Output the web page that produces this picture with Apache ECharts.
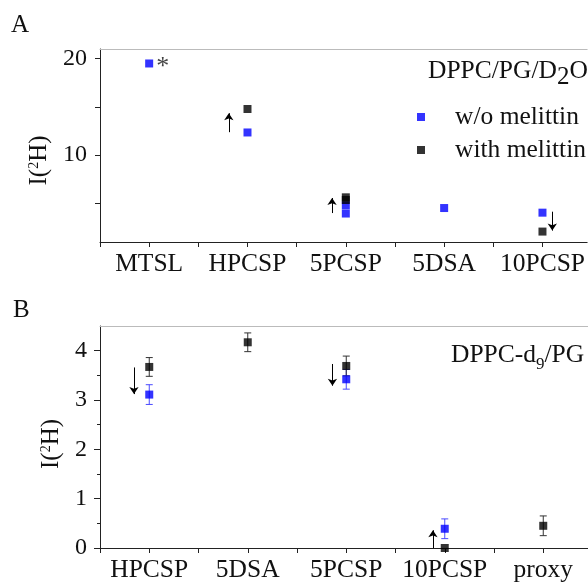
<!DOCTYPE html>
<html>
<head>
<meta charset="utf-8">
<script src="https://cdn.jsdelivr.net/npm/echarts@6/dist/echarts.min.js"></script>
<style>
html, body { margin: 0; padding: 0; background: #fff; }
#main { width: 588px; height: 586px; }
</style>
</head>
<body>
<div id="main"></div>
<script>
// panel A : DPPC/PG/D2O
var catsA = ['MTSL', 'HPCSP', '5PCSP', '5DSA', '10PCSP'];
var woA_x = [1, 2, 3, 3, 4, 5];
var woA_y = [19.5, 12.35, 4.8, 3.95, 4.52, 4.04];
var withA_x = [2, 3, 3, 5];
var withA_y = [14.78, 5.63, 5.35, 2.08];
// arrows: [x, from, to]
var arrowsA = [[1.81, 12.38, 14.35], [2.86, 4.0, 5.56], [5.10, 4.14, 2.18]];

// panel B : DPPC-d9/PG
var catsB = ['HPCSP', '5DSA', '5PCSP', '10PCSP', 'proxy'];
var woB_x = [1, 3, 4];
var woB_y = [3.11, 3.42, 0.39];
var woB_err = [0.2, 0.2, 0.2];
var withB_x = [1, 2, 3, 4, 5];
var withB_y = [3.67, 4.17, 3.69, 0.0, 0.45];
var withB_err = [0.19, 0.19, 0.2, 0, 0.2];
var arrowsB = [[0.845, 3.66, 3.12], [2.86, 3.73, 3.29], [3.88, 0.0, 0.36]];

var FONT = 'Liberation Serif';
var BLUE = '#0000ff';
var BLACK = '#000000';
var XMAX = 0.5 + 488 / 98.5;

var chart = echarts.init(document.getElementById('main'));

function pts(xs, ys) {
    var out = [];
    for (var i = 0; i < xs.length; i++) out.push([xs[i], ys[i]]);
    return out;
}
function errs(xs, ys, es) {
    var out = [];
    for (var i = 0; i < xs.length; i++) {
        if (es[i] > 0) out.push([xs[i], ys[i] - es[i], ys[i] + es[i]]);
    }
    return out;
}
function arrowLines(arr) {
    return arr.map(function (a) {
        return [{ coord: [a[0], a[1]] }, { coord: [a[0], a[2]] }];
    });
}
function errItem(params, api) {
    var x = api.value(0);
    var p1 = api.coord([x, api.value(2)]);
    var p2 = api.coord([x, api.value(1)]);
    var w = 3.5;
    var st = { stroke: api.visual('color'), lineWidth: 1 };
    return {
        type: 'group',
        children: [
            { type: 'line', shape: { x1: p1[0], y1: p1[1], x2: p2[0], y2: p2[1] }, style: st },
            { type: 'line', shape: { x1: p1[0] - w, y1: p1[1], x2: p1[0] + w, y2: p1[1] }, style: st },
            { type: 'line', shape: { x1: p2[0] - w, y1: p2[1], x2: p2[0] + w, y2: p2[1] }, style: st }
        ]
    };
}

var arrowStyle = {
    silent: true,
    symbol: ['none', 'arrow'],
    symbolSize: 7,
    label: { show: false },
    lineStyle: { color: BLACK, width: 1, type: 'solid' },
    animation: false
};

function xAxisFor(grid, cats) {
    return {
        type: 'value', gridIndex: grid, min: 0.5, max: XMAX, position: 'bottom',
        axisLine: { lineStyle: { color: '#222', width: 1 } },
        axisTick: { length: 5, lineStyle: { color: '#222' }, customValues: [0.5, 1, 1.5, 2, 2.5, 3, 3.5, 4, 4.5, 5] },
        axisLabel: {
            customValues: [1, 2, 3, 4, 5], margin: 9,
            fontFamily: FONT, fontSize: 25.5, color: '#111',
            formatter: function (v) { return cats[Math.round(v) - 1]; }
        },
        splitLine: { show: false }
    };
}
function topBorder(grid) {
    return {
        type: 'value', gridIndex: grid, min: 0.5, max: XMAX, position: 'top',
        axisLine: { lineStyle: { color: '#bbbbbb', width: 1 } },
        axisTick: { show: false }, axisLabel: { show: false }, splitLine: { show: false }
    };
}
function nameStyle(shift) {
    return {
        fontFamily: FONT, fontSize: 25, color: '#111',
        padding: [0, shift * 2, 0, 0],
        rich: { sup: { fontFamily: FONT, fontSize: 14, color: '#111', verticalAlign: 'top', lineHeight: 14 } }
    };
}
var plain = { fontFamily: FONT, fontSize: 25, fontWeight: 'normal', color: '#111' };

option = {
    animation: false,
    title: [
        { text: 'A', left: 11, top: 13, padding: 0, textStyle: plain },
        { text: 'B', left: 13, top: 298, padding: 0, textStyle: plain },
        {
            text: '{n|DPPC/PG/D}{s|2}{n|O}', left: 428, top: 58, padding: 0,
            textStyle: {
                fontWeight: 'normal',
                rich: {
                    n: { fontFamily: FONT, fontSize: 25.5, fontWeight: 'normal', color: '#111', verticalAlign: 'top' },
                    s: { fontFamily: FONT, fontSize: 25, fontWeight: 'normal', color: '#111', verticalAlign: 'top', padding: [7, 0, 0, 0] }
                }
            }
        },
        {
            text: '{n|DPPC-d}{s|9}{n|/PG}', left: 451, top: 342, padding: 0,
            textStyle: {
                fontWeight: 'normal',
                rich: {
                    n: { fontFamily: FONT, fontSize: 25.5, fontWeight: 'normal', color: '#111', verticalAlign: 'top' },
                    s: { fontFamily: FONT, fontSize: 17, fontWeight: 'normal', color: '#111', verticalAlign: 'top', padding: [14, 0, 0, 0] }
                }
            }
        }
    ],
    legend: {
        data: ['w/o melittin', 'with melittin'],
        orient: 'vertical', left: 417, top: 104, padding: 0,
        icon: 'rect', itemWidth: 8, itemHeight: 8, itemGap: 7,
        textStyle: { fontFamily: FONT, fontSize: 25.5, color: '#111', lineHeight: 24, padding: [0, 0, 0, 25] }
    },
    grid: [
        { left: 100, top: 49, right: 0, height: 193 },
        { left: 100, top: 326, right: 0, height: 222 }
    ],
    xAxis: [xAxisFor(0, catsA), topBorder(0), xAxisFor(1, catsB), topBorder(1)],
    yAxis: [
        {
            type: 'value', gridIndex: 0, min: 1, max: 21,
            name: 'I({sup|2}H)', nameLocation: 'middle', nameGap: 48, nameTextStyle: nameStyle(15),
            axisLine: { show: true, lineStyle: { color: '#222' } },
            axisTick: { show: true, length: 5, lineStyle: { color: '#222' }, customValues: [5, 10, 15, 20] },
            axisLabel: { customValues: [10, 20], margin: 13, fontFamily: FONT, fontSize: 24, color: '#111' },
            splitLine: { show: false }
        },
        {
            type: 'value', gridIndex: 1, min: 0, max: 4.5, interval: 1,
            name: 'I({sup|2}H)', nameLocation: 'middle', nameGap: 36, nameTextStyle: nameStyle(7),
            axisLine: { show: true, lineStyle: { color: '#222' } },
            axisTick: { show: true, length: 6, lineStyle: { color: '#222' }, customValues: [0, 1, 2, 3, 4] },
            minorTick: { show: true, splitNumber: 2, length: 3, lineStyle: { color: '#222' } },
            axisLabel: { customValues: [0, 1, 2, 3, 4], margin: 13, fontFamily: FONT, fontSize: 24, color: '#111' },
            splitLine: { show: false }
        }
    ],
    series: [
        {
            name: 'w/o melittin', type: 'scatter', xAxisIndex: 0, yAxisIndex: 0,
            symbol: 'rect', symbolSize: 8, itemStyle: { color: BLUE },
            data: pts(woA_x, woA_y).map(function (p, i) {
                if (i === 0) return { value: p, label: { show: true, formatter: '*', position: 'right', distance: 3, offset: [0, 4], fontFamily: FONT, fontSize: 26, color: '#111' } };
                return p;
            })
        },
        {
            name: 'with melittin', type: 'scatter', xAxisIndex: 0, yAxisIndex: 0,
            symbol: 'rect', symbolSize: 8, itemStyle: { color: BLACK },
            data: pts(withA_x, withA_y),
            markLine: Object.assign({ data: arrowLines(arrowsA) }, arrowStyle)
        },
        {
            name: 'w/o melittin', type: 'custom', xAxisIndex: 2, yAxisIndex: 1,
            renderItem: errItem, itemStyle: { color: '#4a4aff' },
            encode: { x: 0, y: [1, 2] }, data: errs(woB_x, woB_y, woB_err), z: 1
        },
        {
            name: 'with melittin', type: 'custom', xAxisIndex: 2, yAxisIndex: 1,
            renderItem: errItem, itemStyle: { color: '#333' },
            encode: { x: 0, y: [1, 2] }, data: errs(withB_x, withB_y, withB_err), z: 1
        },
        {
            name: 'w/o melittin', type: 'scatter', xAxisIndex: 2, yAxisIndex: 1,
            symbol: 'rect', symbolSize: 8, itemStyle: { color: BLUE }, z: 3,
            data: pts(woB_x, woB_y)
        },
        {
            name: 'with melittin', type: 'scatter', xAxisIndex: 2, yAxisIndex: 1,
            symbol: 'rect', symbolSize: 8, itemStyle: { color: BLACK }, z: 2,
            data: pts(withB_x, withB_y),
            markLine: Object.assign({ data: arrowLines(arrowsB) }, arrowStyle)
        }
    ]
};

chart.setOption(option);
window.onresize = chart.resize;
</script>
</body>
</html>
